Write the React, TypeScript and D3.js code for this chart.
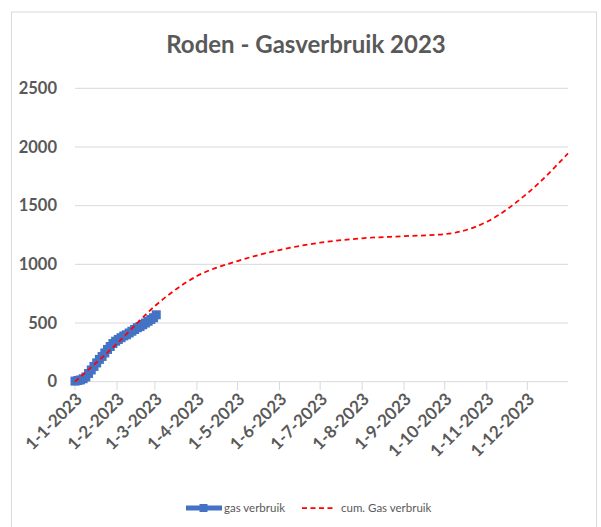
import { useEffect, useRef } from "react";
import * as d3 from "d3";

// month ticks on the x axis
const tickDates = [
  "2023-01-01", "2023-02-01", "2023-03-01", "2023-04-01", "2023-05-01", "2023-06-01",
  "2023-07-01", "2023-08-01", "2023-09-01", "2023-10-01", "2023-11-01", "2023-12-01",
];
const tickLabels = [
  "1-1-2023", "1-2-2023", "1-3-2023", "1-4-2023", "1-5-2023", "1-6-2023",
  "1-7-2023", "1-8-2023", "1-9-2023", "1-10-2023", "1-11-2023", "1-12-2023",
];
const yTicks = [0, 500, 1000, 1500, 2000, 2500];

// gas verbruik (meter readings, first two months)
const gasDates = [
  "2023-01-01", "2023-01-03", "2023-01-05", "2023-01-07", "2023-01-09", "2023-01-11",
  "2023-01-13", "2023-01-15", "2023-01-17", "2023-01-19", "2023-01-21", "2023-01-23",
  "2023-01-25", "2023-01-27", "2023-01-29", "2023-01-31", "2023-02-02", "2023-02-04",
  "2023-02-06", "2023-02-08", "2023-02-10", "2023-02-12", "2023-02-14", "2023-02-16",
  "2023-02-18", "2023-02-20", "2023-02-22", "2023-02-24", "2023-02-26", "2023-02-28",
  "2023-03-02",
];
const gasValues = [
  5, 10, 15, 25, 40, 70, 100, 130, 160, 190, 215, 245, 275, 300, 325, 345,
  360, 375, 390, 400, 415, 430, 445, 460, 470, 485, 500, 515, 530, 545, 570,
];

// cumulatief gasverbruik
const cumDates = [
  "2023-01-01", "2023-02-01", "2023-03-01", "2023-04-01", "2023-05-01", "2023-06-01",
  "2023-07-01", "2023-08-01", "2023-09-01", "2023-10-01", "2023-11-01", "2023-12-01",
  "2023-12-31",
];
const cumValues = [0, 325, 645, 900, 1028, 1122, 1185, 1222, 1240, 1257, 1362, 1605, 1945];

const width = 601;
const height = 527;
const font = "Lato, 'Open Sans', sans-serif";
const textColor = "#595959";

export default function App() {
  const svgRef = useRef<SVGSVGElement>(null);

  useEffect(() => {
    if (!svgRef.current) return;
    const svg = d3.select(svgRef.current);
    svg.selectAll("*").remove();

    const parse = d3.utcParse("%Y-%m-%d");

    // chart border
    svg.append("rect")
      .attr("x", 11.5).attr("y", 12)
      .attr("width", 585).attr("height", 530)
      .attr("fill", "#fff")
      .attr("stroke", "#d9d9d9")
      .attr("stroke-width", 1);

    // title
    svg.append("text")
      .attr("x", 306).attr("y", 53)
      .attr("text-anchor", "middle")
      .attr("font-family", font)
      .attr("font-size", "24px")
      .attr("font-weight", "bold")
      .attr("fill", textColor)
      .text("Roden - Gasverbruik 2023");

    const x = d3.scaleUtc()
      .domain([parse("2023-01-01")!, parse("2023-12-31")!])
      .range([75, 568]);
    const y = d3.scaleLinear().domain([0, 2500]).range([381.7, 88.3]);

    // gridlines
    svg.append("g")
      .selectAll("line")
      .data(yTicks)
      .join("line")
      .attr("x1", 75).attr("x2", 568)
      .attr("y1", (d) => y(d)).attr("y2", (d) => y(d))
      .attr("stroke", "#d9d9d9")
      .attr("stroke-width", 1);

    // y labels
    svg.append("g")
      .selectAll("text")
      .data(yTicks)
      .join("text")
      .attr("x", 57)
      .attr("y", (d) => y(d))
      .attr("dy", "0.35em")
      .attr("text-anchor", "end")
      .attr("font-family", font)
      .attr("font-size", "16.5px")
      .attr("font-weight", "bold")
      .attr("fill", textColor)
      .text((d) => String(d));

    // x ticks
    const tickX = tickDates.map((d) => x(parse(d)!));
    svg.append("g")
      .selectAll("line")
      .data(tickX)
      .join("line")
      .attr("x1", (d) => d).attr("x2", (d) => d)
      .attr("y1", 381.7).attr("y2", 390)
      .attr("stroke", "#d9d9d9");

    svg.append("g")
      .selectAll("text")
      .data(tickLabels)
      .join("text")
      .attr("transform", (_d, i) => `translate(${tickX[i] + 4},396) rotate(-45)`)
      .attr("dy", "0.35em")
      .attr("text-anchor", "end")
      .attr("font-family", font)
      .attr("font-size", "17px")
      .attr("font-weight", "bold")
      .attr("fill", textColor)
      .text((d) => d);

    // cum line
    const cumData = cumDates.map((d, i) => ({ date: parse(d)!, value: cumValues[i] }));
    const line = d3.line<{ date: Date; value: number }>()
      .x((d) => x(d.date))
      .y((d) => y(d.value))
      .curve(d3.curveMonotoneX);

    // gas verbruik
    const gasData = gasDates.map((d, i) => ({ date: parse(d)!, value: gasValues[i] }));
    svg.append("path")
      .datum(gasData)
      .attr("d", d3.line<{ date: Date; value: number }>()
        .x((d) => x(d.date))
        .y((d) => y(d.value)))
      .attr("fill", "none")
      .attr("stroke", "#4472C4")
      .attr("stroke-width", 5)
      .attr("stroke-linejoin", "round");

    svg.append("g")
      .selectAll("rect")
      .data(gasData)
      .join("rect")
      .attr("x", (d) => x(d.date) - 4.5)
      .attr("y", (d) => y(d.value) - 4.5)
      .attr("width", 9).attr("height", 9)
      .attr("fill", "#4472C4");

    svg.append("path")
      .datum(cumData)
      .attr("d", line)
      .attr("fill", "none")
      .attr("stroke", "#FF0000")
      .attr("stroke-width", 1.75)
      .attr("stroke-dasharray", "5,3.5");

    // legend
    const lg = svg.append("g");
    lg.append("line")
      .attr("x1", 186).attr("x2", 222)
      .attr("y1", 508).attr("y2", 508)
      .attr("stroke", "#4472C4").attr("stroke-width", 5);
    lg.append("rect")
      .attr("x", 199.5).attr("y", 504).attr("width", 8).attr("height", 8)
      .attr("fill", "#4472C4");
    lg.append("text")
      .attr("x", 224).attr("y", 508).attr("dy", "0.35em")
      .attr("font-family", font).attr("font-size", "11.5px")
      .attr("fill", textColor)
      .text("gas verbruik");
    lg.append("line")
      .attr("x1", 302).attr("x2", 334)
      .attr("y1", 508).attr("y2", 508)
      .attr("stroke", "#FF0000").attr("stroke-width", 1.75)
      .attr("stroke-dasharray", "5,3.5");
    lg.append("text")
      .attr("x", 341).attr("y", 508).attr("dy", "0.35em")
      .attr("font-family", font).attr("font-size", "11.5px")
      .attr("fill", textColor)
      .text("cum. Gas verbruik");
  }, []);

  return (
    <svg
      ref={svgRef}
      width={width}
      height={height}
      style={{ position: "absolute", left: 0, top: 0, background: "#fff" }}
    />
  );
}
